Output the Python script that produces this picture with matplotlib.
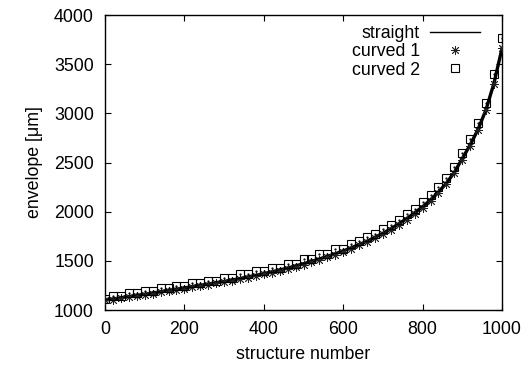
import matplotlib
matplotlib.use("Agg")
import matplotlib.pyplot as plt
from matplotlib.lines import Line2D

plt.rcParams['font.family'] = ['Liberation Sans', 'DejaVu Sans']

structure = [0, 20, 40, 60, 80, 100, 120, 140, 160, 180, 200, 220, 240, 260, 280,
             300, 320, 340, 360, 380, 400, 420, 440, 460, 480, 500, 520, 540, 560,
             580, 600, 620, 640, 660, 680, 700, 720, 740, 760, 780, 800, 820, 840,
             860, 880, 900, 920, 940, 960, 980, 1000]

straight = [1100, 1112, 1124, 1136, 1148, 1160, 1173, 1186, 1199, 1212, 1225, 1238,
            1251, 1264, 1277, 1290, 1305, 1320, 1336, 1353, 1370, 1388, 1407, 1427,
            1448, 1470, 1494, 1519, 1545, 1572, 1600, 1632, 1665, 1700, 1738, 1780,
            1826, 1876, 1930, 1988, 2050, 2120, 2200, 2290, 2400, 2540, 2680, 2840,
            3040, 3310, 3660]

curved1 = [1100, 1106, 1118, 1130, 1142, 1152, 1166, 1178, 1192, 1204, 1218, 1230,
           1244, 1256, 1270, 1282, 1298, 1312, 1328, 1344, 1362, 1378, 1398, 1416,
           1440, 1460, 1486, 1508, 1536, 1562, 1592, 1622, 1656, 1690, 1728, 1770,
           1816, 1866, 1920, 1978, 2040, 2110, 2190, 2280, 2390, 2528, 2670, 2830,
           3030, 3300, 3660]

curved2 = [1110, 1146, 1146, 1170, 1170, 1196, 1196, 1222, 1222, 1248, 1248, 1274,
           1274, 1300, 1300, 1330, 1330, 1362, 1362, 1396, 1396, 1432, 1432, 1472,
           1472, 1516, 1516, 1566, 1566, 1620, 1620, 1668, 1700, 1740, 1776, 1822,
           1866, 1918, 1972, 2032, 2096, 2168, 2250, 2342, 2455, 2598, 2742, 2905,
           3110, 3395, 3770]

fig = plt.figure(figsize=(5.32, 3.66), dpi=100)
ax = fig.add_axes([0.1974, 0.153, 0.7462, 0.806])

ax.plot(structure, straight, color='black', lw=2.4, zorder=3)
ax.plot(structure, curved1, linestyle='none', marker=(8, 2, 0), ms=6.5,
        mec='#222222', mew=0.6, zorder=4)
ax.plot(structure, curved2, linestyle='none', marker='s', ms=6.3, mfc='none',
        mec='black', mew=0.8, zorder=4)
ax.plot(structure, curved2, linestyle='none', marker='.', ms=1.2,
        color='black', zorder=4)

ax.set_xlim(0, 1000)
ax.set_ylim(1000, 4000)
ax.set_xticks([0, 200, 400, 600, 800, 1000])
ax.set_yticks([1000, 1500, 2000, 2500, 3000, 3500, 4000])
ax.tick_params(direction='in', length=4.5, width=0.8, top=True, right=True,
               labelsize=12.8, pad=8)
for s in ax.spines.values():
    s.set_linewidth(1.0)

ax.set_xlabel('structure number', fontsize=12.8, labelpad=6)
ax.set_ylabel('envelope [μm]', fontsize=12.8, labelpad=8)

handles = [
    Line2D([], [], color='black', lw=1.0),
    Line2D([], [], linestyle='none', marker=(8, 2, 0), ms=6.5, mec='#222222', mew=0.6),
    Line2D([], [], linestyle='none', marker='s', ms=6.3, mfc='none', mec='black', mew=0.8),
]
leg = ax.legend(handles, ['straight', 'curved 1', 'curved 2'], loc='upper right',
                bbox_to_anchor=(0.97, 1.0), frameon=False, markerfirst=False,
                fontsize=12.8, handlelength=2.85, handletextpad=0.55,
                labelspacing=0.08, borderaxespad=0.15)
for t in leg.get_texts():
    t.set_ha('right')

fig.savefig('out.png', dpi=100)
